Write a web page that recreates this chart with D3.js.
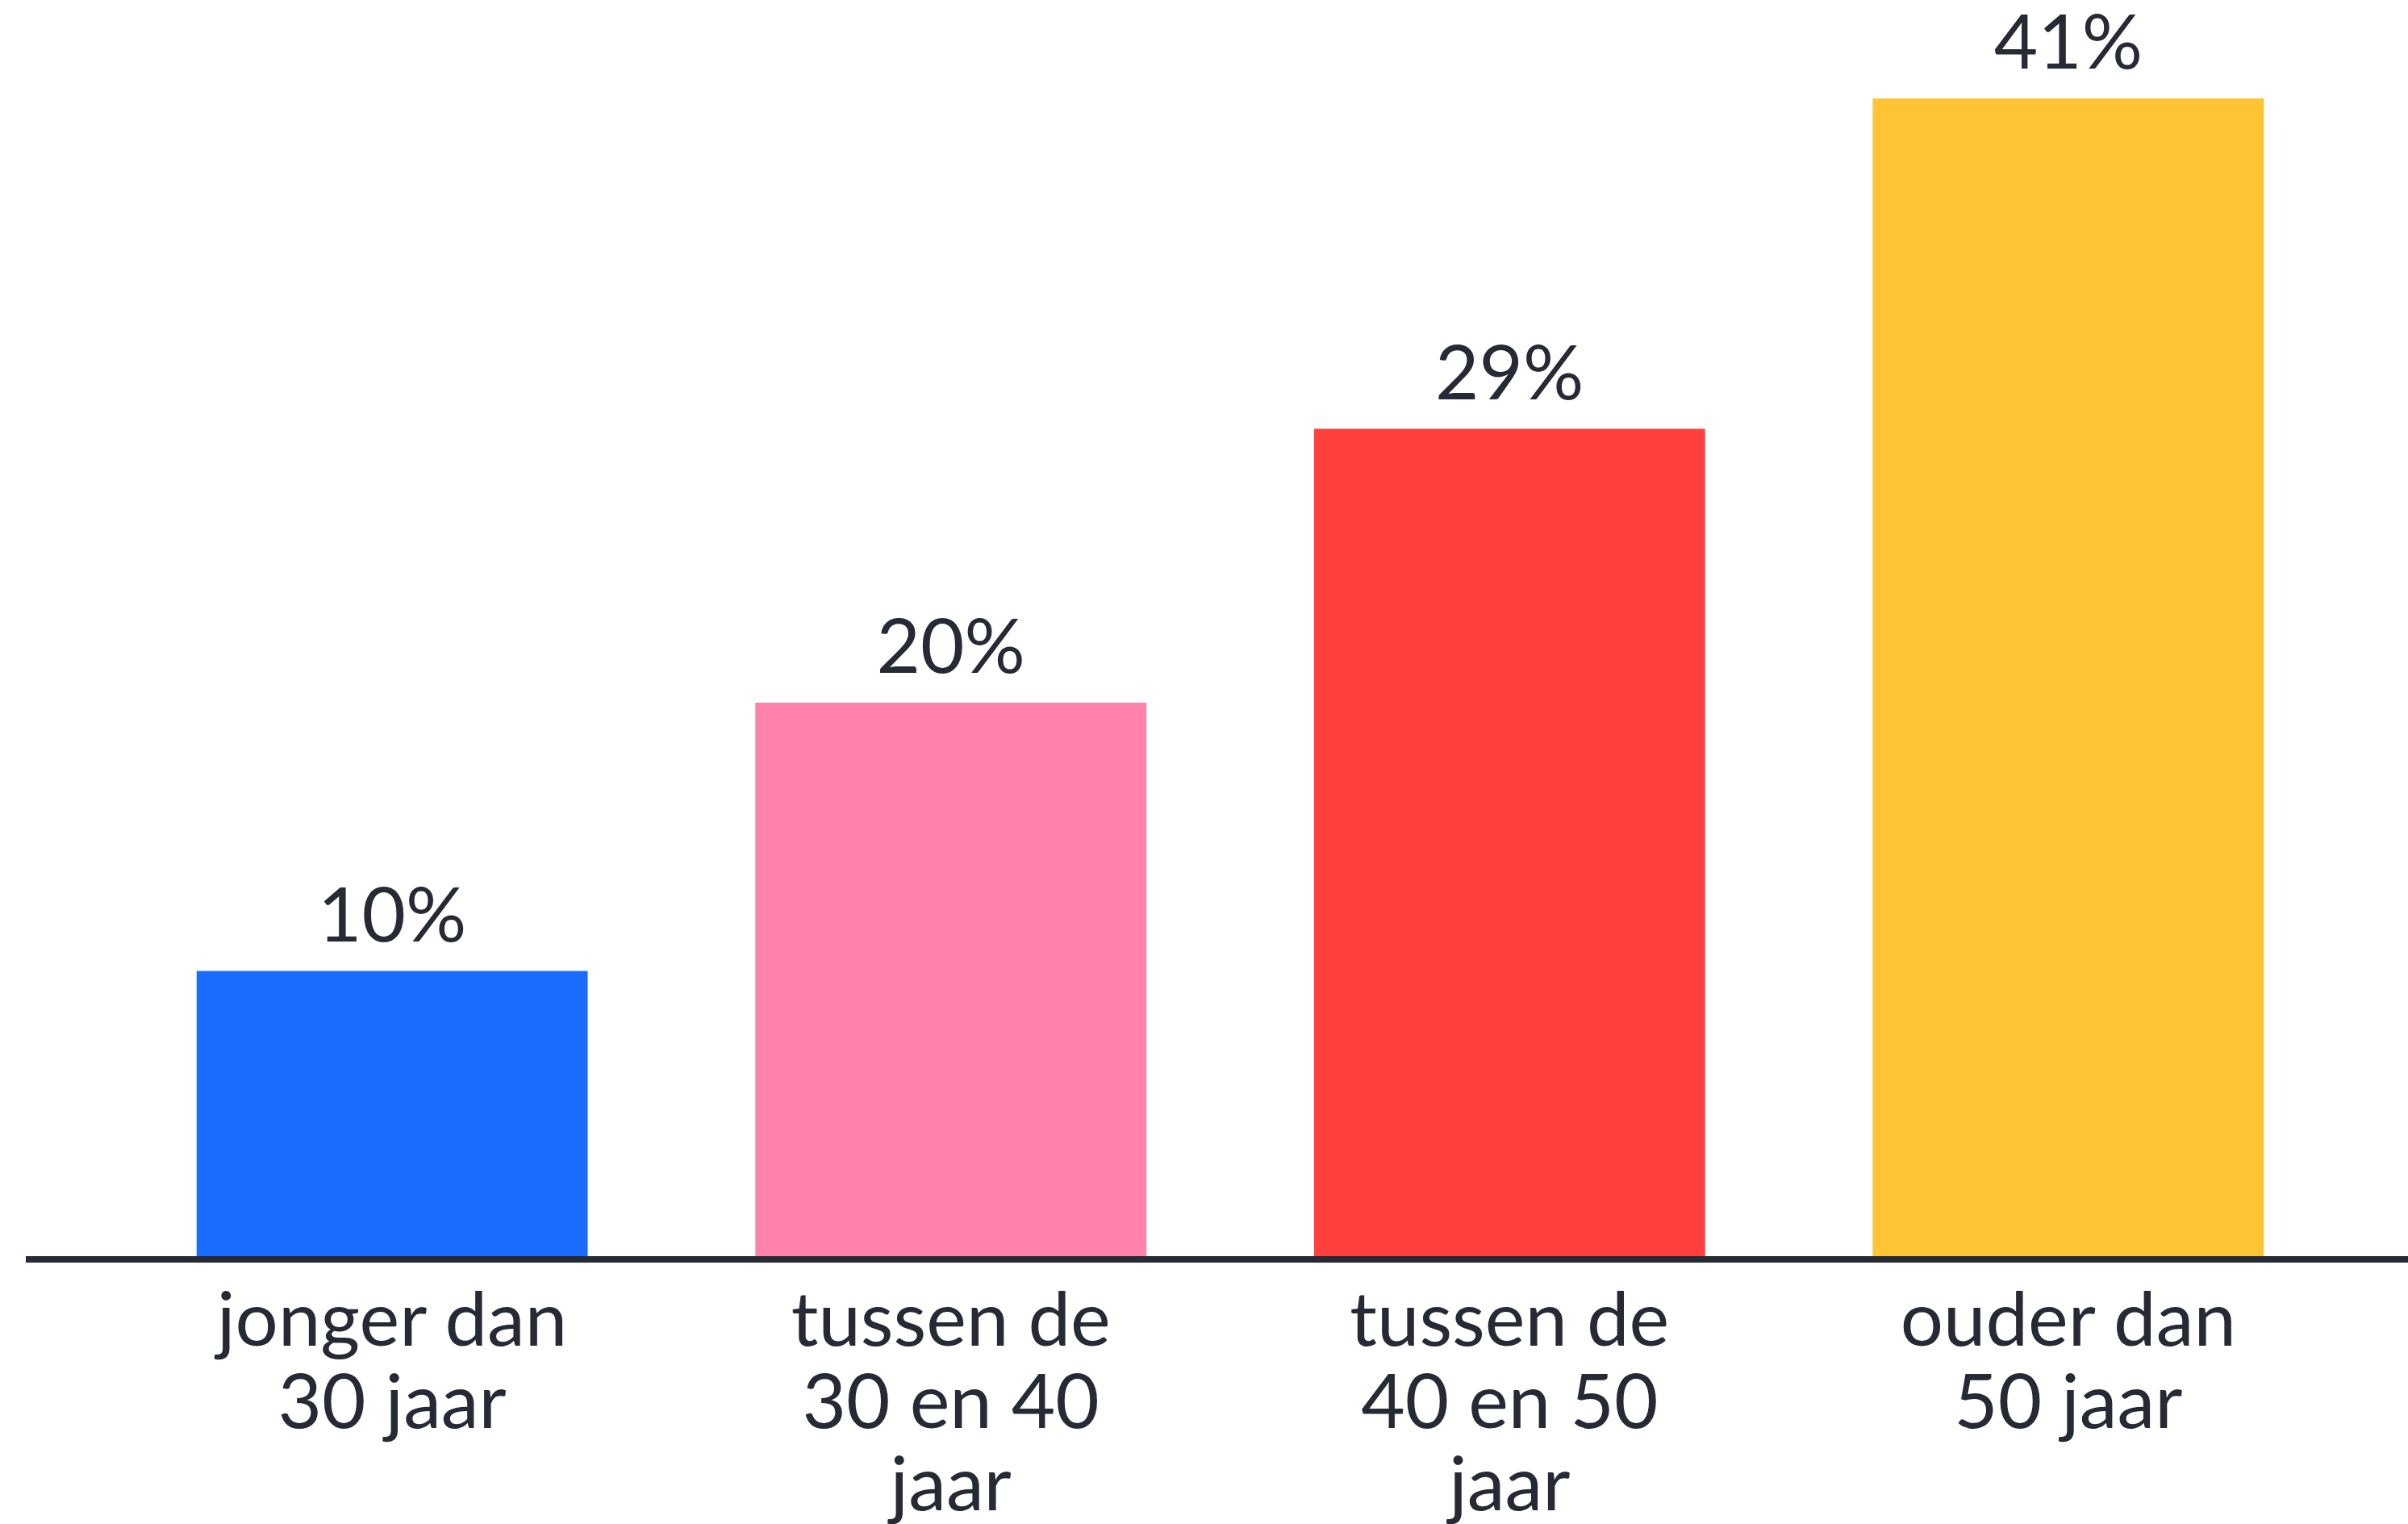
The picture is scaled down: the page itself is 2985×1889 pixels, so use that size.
<!DOCTYPE html>
<html>
<head>
<meta charset="utf-8">
<script src="https://cdn.jsdelivr.net/npm/d3@7"></script>
<style>
  html, body { margin: 0; padding: 0; background: #ffffff; }
  svg { display: block; }
</style>
</head>
<body>
<script>
const categories = ["jonger dan 30 jaar", "tussen de 30 en 40 jaar", "tussen de 40 en 50 jaar", "ouder dan 50 jaar"];
const categoryLines = [
  ["jonger dan", "30 jaar"],
  ["tussen de", "30 en 40", "jaar"],
  ["tussen de", "40 en 50", "jaar"],
  ["ouder dan", "50 jaar"]
];
const values = [10.1, 19.6, 29.3, 41.0];
const valueLabels = ["10%", "20%", "29%", "41%"];
const colors = ["#1a6bff", "#ff82aa", "#ff403d", "#fdc436"];

const W = 2985, H = 1889;
const textColor = "#262a35";
const fontFamily = "Lato, 'Noto Sans', sans-serif";

const svg = d3.select("body").append("svg")
  .attr("width", W).attr("height", H);

const x = d3.scaleBand()
  .domain(categories)
  .range([36, 3014])
  .paddingInner(0.3)
  .paddingOuter(0.3);

const y = d3.scaleLinear()
  .domain([0, 41])
  .range([1557, 122]);

// bars
svg.append("g").selectAll("rect")
  .data(values)
  .join("rect")
  .attr("x", (d, i) => x(categories[i]))
  .attr("width", x.bandwidth())
  .attr("y", d => y(d))
  .attr("height", d => y(0) - y(d))
  .attr("fill", (d, i) => colors[i]);

// value labels
svg.append("g").selectAll("text")
  .data(values)
  .join("text")
  .attr("x", (d, i) => x(categories[i]) + x.bandwidth() / 2)
  .attr("y", d => y(d) - 37)
  .attr("text-anchor", "middle")
  .attr("font-family", fontFamily)
  .attr("font-size", 94)
  .attr("fill", textColor)
  .text((d, i) => valueLabels[i]);

// baseline axis line
svg.append("line")
  .attr("x1", 32).attr("x2", W)
  .attr("y1", y(0) + 4).attr("y2", y(0) + 4)
  .attr("stroke", textColor)
  .attr("stroke-width", 8);

// category labels
const lab = svg.append("g").selectAll("text")
  .data(categories)
  .join("text")
  .attr("text-anchor", "middle")
  .attr("font-family", fontFamily)
  .attr("font-size", 94)
  .attr("fill", textColor);

lab.each(function(d, i) {
  const t = d3.select(this);
  categoryLines[i].forEach((ln, j) => {
    t.append("tspan")
      .attr("x", x(d) + x.bandwidth() / 2)
      .attr("y", 1668 + j * 102)
      .text(ln);
  });
});
</script>
</body>
</html>
